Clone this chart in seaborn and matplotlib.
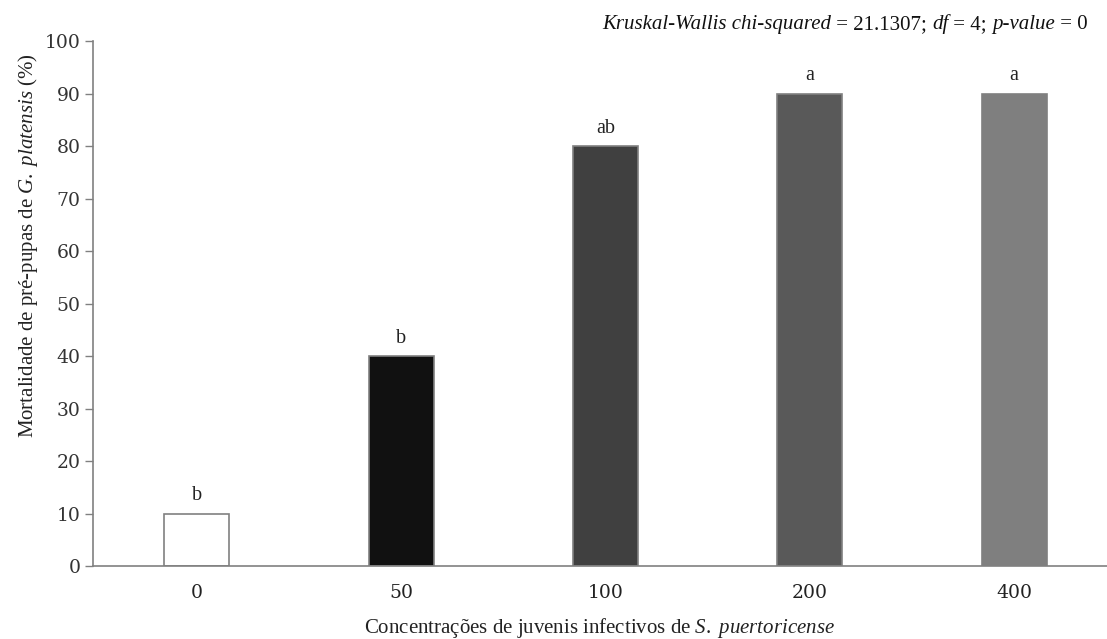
import pandas as pd
import matplotlib
matplotlib.use('Agg')
import matplotlib.pyplot as plt
import seaborn as sns

# datos
concentracoes = ['0', '50', '100', '200', '400']
mortalidade = [10, 40, 80, 90, 90]
letras = ['b', 'b', 'ab', 'a', 'a']
cores = ['#ffffff', '#111111', '#404040', '#595959', '#7f7f7f']

df = pd.DataFrame({'conc': concentracoes, 'mort': mortalidade})

sns.set_theme(style="white")
plt.rcParams['font.family'] = ['Liberation Serif', 'DejaVu Serif']
plt.rcParams['mathtext.fontset'] = 'custom'
plt.rcParams['mathtext.rm'] = 'Liberation Serif'
plt.rcParams['mathtext.it'] = 'Liberation Serif:italic'

fig = plt.figure(figsize=(11.07, 6.39), dpi=100)
ax = fig.add_axes([0.084, 0.1142, 0.916, 0.8216])

sns.barplot(data=df, x='conc', y='mort', hue='conc', palette=cores, legend=False,
            width=0.318, ax=ax, errorbar=None, order=concentracoes)
for p in ax.patches:
    p.set_edgecolor('#808080')
    p.set_linewidth(1.2)

for i, (v, l) in enumerate(zip(mortalidade, letras)):
    ax.annotate(l, xy=(i, v), xytext=(0, 6), textcoords='offset points',
                ha='center', va='bottom', fontsize=14.5, color='#222222')

ax.set_ylim(0, 100)
ax.set_xlim(-0.509, 4.455)
ax.set_yticks(range(0, 101, 10))
ax.tick_params(axis='y', length=6, width=1, color='#808080', labelsize=13.5,
               labelcolor='#333333', pad=3, left=True)
ax.tick_params(axis='x', length=0, labelsize=13.5, labelcolor='#222222', pad=13)
for lab in ax.get_xticklabels() + ax.get_yticklabels():
    lab.set_family('DejaVu Serif')

for s in ['top', 'right']:
    ax.spines[s].set_visible(False)
for s in ['left', 'bottom']:
    ax.spines[s].set_color('#808080')
    ax.spines[s].set_linewidth(1.2)

ax.set_xlabel(r'Concentrações de juvenis infectivos de $\it{S.\ puertoricense}$',
              fontsize=15, color='#222222', labelpad=10)
ax.set_ylabel(r'Mortalidade de pré-pupas de $\it{G.\ platensis}$ (%)',
              fontsize=15, color='#222222')
ax.yaxis.set_label_coords(-0.052, 0.611)

# texto del test
partes = [('Kruskal-Wallis chi-squared', 'italic'), (' = 21.1307; ', 'normal'),
          ('df', 'italic'), (' = 4; ', 'normal'), ('p-value', 'italic'), (' = 0', 'normal')]
t = fig.text(602 / 1107, 1 - 29 / 639, partes[0][0], style=partes[0][1],
             fontsize=15, color='#111111', va='baseline')
for txt, st in partes[1:]:
    t = ax.annotate(txt, xy=(1, 0), xycoords=t, va='bottom', ha='left',
                    style=st, fontsize=15, color='#111111')

plt.savefig('out.png', dpi=100)
plt.close()
